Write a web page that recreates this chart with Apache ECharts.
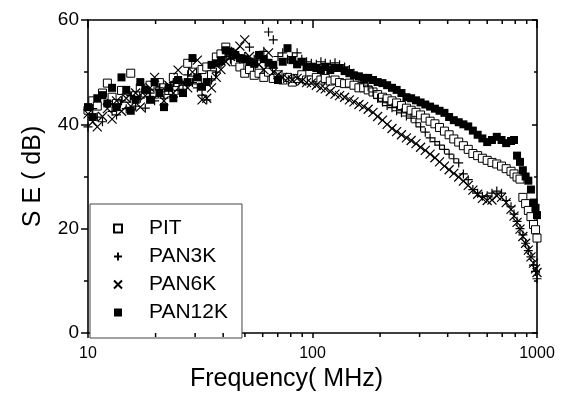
<!DOCTYPE html>
<html>
<head>
<meta charset="utf-8">
<script src="https://cdn.jsdelivr.net/npm/echarts@6/dist/echarts.min.js"></script>
<style>
html,body{margin:0;padding:0;background:#fff;}
#c{width:573px;height:405px;}
</style>
</head>
<body>
<div id="c"></div>
<script>
// Frequency (MHz)
const freq = [10, 10.5, 11, 11.6, 12.2, 12.8, 13.4, 14.1, 14.8, 15.5, 16.3, 17.1, 18, 18.9, 19.8, 20.8, 21.8, 22.9, 24, 25.2,
  26.5, 27.8, 29.2, 30.7, 32.2, 33.8, 35.5, 37.3, 39.1, 41.1, 43.1, 45.3, 47.5, 49.9, 52.4, 55, 57.8, 60.7, 63.7, 66.9,
  70.2, 73.7, 77.4, 81.3, 85.4, 89.6, 94.1, 98.8, 104, 109, 114, 120, 126, 132, 139, 146, 153, 161, 169, 177,
  186, 195, 205, 215, 226, 237, 249, 262, 275, 289, 303, 318, 334, 351, 368, 387, 406, 426, 448, 470,
  494, 518, 544, 571, 600, 630, 662, 695, 729, 766, 790, 815, 840, 865, 890, 915, 940, 965, 985, 1000];

// SE (dB)
const pit = [42.7, 44.5, 43.5, 46, 47.9, 45.2, 44, 46.5, 45, 49.8, 45.5, 47, 46, 47.5, 45.8, 48, 47, 46.5, 49, 48,
  47.5, 51.7, 50, 48.5, 50.5, 51, 49.5, 52.9, 53.5, 54.8, 53.5, 52, 51, 49.8, 50.5, 49.4, 49.8, 49, 50, 48.8,
  49.5, 48.5, 49, 48.1, 48.8, 49.5, 48.5, 48.5, 49, 48.5, 48.8, 48.3, 48.5, 48, 47.8, 47.9, 47.5, 47, 47, 46.6,
  46.2, 45.7, 45.2, 44.9, 44.5, 44.1, 43.6, 43.1, 42.7, 42.3, 41.8, 41.2, 40.6, 40.1, 39.4, 38.7, 38, 37.2, 36.6, 35.9,
  35.2, 34.4, 34, 33.5, 33.1, 32.7, 32.4, 32, 31.5, 31, 30.5, 29.9, 29.5, 26, 24.8, 23.5, 22.3, 20.8, 19.8, 18.2];

const pan3k = [39.5, 43, 41.4, 40.5, 44, 42.5, 41.8, 44.5, 43, 45.5, 43.5, 45, 43.1, 46, 44.5, 47, 45, 46.5, 48, 46.5,
  47.5, 49.5, 48, 47, 45.6, 44.7, 48.5, 50, 51.5, 53, 52.5, 53.5, 52.5, 53, 54.8, 52.5, 53, 54, 57.7, 56.2,
  53, 53.7, 52.5, 53, 53.7, 52.5, 52, 51.7, 51.5, 52, 51.7, 51.5, 51.8, 51.4, 51, 50.5, 49.8, 48.8, 48, 47.2,
  46.2, 45, 44.3, 43.6, 43.2, 42.6, 42.2, 41.6, 41.2, 40.3, 39.5, 38.5, 37.4, 36.7, 36, 35.2, 34.3, 33.4, 32.6, 30.5,
  29.4, 27.5, 26.8, 26.2, 26.3, 26.8, 27.2, 26.8, 25.4, 24.2, 22.8, 21.4, 20, 18.8, 17.2, 15.8, 14.6, 13, 11.8, 10.4];

const pan6k = [42, 40.5, 39.5, 41.5, 43, 41, 44.5, 42.5, 45, 43.5, 46, 43.3, 45.5, 47, 49, 46, 44.5, 47.5, 46, 50.4,
  48, 47, 50, 52.3, 44.7, 45, 47, 49, 50.5, 52, 53, 54, 55, 56.2, 53, 52, 51.5, 50.5, 53.7, 50,
  49.5, 49, 48.8, 48.5, 48.8, 48.3, 48, 47.9, 47.5, 47, 46.8, 46.3, 45.8, 45.5, 45.2, 44.7, 44.3, 43.8, 43.4, 42.9,
  42.3, 41.5, 40.8, 40, 39.2, 38.6, 38, 37.4, 36.9, 36.3, 35.6, 35, 34.3, 33.6, 32.8, 32, 31.3, 30.6, 29.9, 29.1,
  28.3, 27.4, 26.6, 25.8, 25.4, 25.5, 26.3, 26, 25, 23.7, 22.4, 21.2, 19.9, 18.5, 17.2, 15.9, 14.6, 13.4, 12.3, 11.6];

const pan12k = [43.3, 41.4, 45, 45.6, 44, 47, 43.3, 49, 46.6, 42.6, 44.7, 48.1, 46.6, 44.7, 48.1, 46, 43.3, 47, 45, 48.5,
  46, 48.1, 52.7, 49, 47.2, 48.1, 51.4, 51.7, 52.3, 54.2, 53.9, 53.3, 52.7, 52.5, 52, 51.6, 53.3, 52.5, 51.8, 51.4,
  48.5, 52, 54.6, 52.3, 51.5, 52, 51, 51, 50.8, 50.4, 51, 50.4, 50.8, 50.8, 50.2, 49.8, 49.4, 49.2, 48.9, 48.9,
  48.5, 48.1, 47.9, 47.5, 47, 46.6, 46, 45.2, 45, 44.6, 44.2, 43.8, 43.4, 43, 42.6, 42.2, 41.4, 40.8, 40.4, 40,
  39.6, 38.8, 38, 37.3, 36.6, 37, 37.6, 37, 36.4, 36.8, 37, 34, 32.8, 31.2, 30, 29.2, 27.5, 25, 24, 22.6];

const seriesNames = ['PIT', 'PAN3K', 'PAN6K', 'PAN12K'];
const xMinorTicks = [20, 30, 40, 50, 60, 70, 80, 90, 200, 300, 400, 500, 600, 700, 800, 900];

const FONT = '"Liberation Sans", Arial, Helvetica, sans-serif';
const SQUARE = 'path://M0,0L10,0L10,10L0,10Z';
const PLUS = 'path://M5,0L5,10M0,5L10,5';
const CROSS = 'path://M0,0L10,10M10,0L0,10';

function pairs(vals) { return freq.map((f, i) => [f, vals[i]]); }

const chart = echarts.init(document.getElementById('c'), null, {renderer: 'canvas'});

const axisLine = {show: true, onZero: false, lineStyle: {color: '#000', width: 1.6}};
const tickStyle = {color: '#000', width: 1.5};

const option = {
  animation: false,
  backgroundColor: '#fff',
  textStyle: {fontFamily: FONT},
  grid: {left: 88, right: 36, top: 20, bottom: 72, containLabel: false},
  legend: {
    data: seriesNames,
    orient: 'vertical',
    left: 90, top: 204,
    padding: [14, 14, 15, 23],
    itemWidth: 8, itemHeight: 8, itemGap: 7,
    backgroundColor: '#fff',
    borderColor: '#444', borderWidth: 1,
    textStyle: {fontFamily: FONT, fontSize: 21, color: '#000', lineHeight: 21, padding: [0, 0, 0, 22]},
    selectedMode: false
  },
  xAxis: [{
    type: 'log', logBase: 10, min: 10, max: 1000,
    position: 'bottom',
    axisLine: axisLine,
    axisTick: {show: true, inside: false, length: 5, lineStyle: tickStyle},
    axisLabel: {fontFamily: FONT, fontSize: 16, color: '#000', margin: 13, formatter: v => String(Math.round(v))},
    splitLine: {show: false},
    name: 'Frequency( MHz)', nameLocation: 'middle', nameGap: 33,
    nameTextStyle: {fontFamily: FONT, fontSize: 25, color: '#000', padding: [0, 52, 0, 0]}
  }, {
    type: 'log', logBase: 10, min: 10, max: 1000,
    position: 'top',
    axisLine: axisLine,
    axisTick: {show: true, inside: true, length: 8, lineStyle: tickStyle},
    axisLabel: {show: false},
    splitLine: {show: false}
  }],
  yAxis: [{
    type: 'value', min: 0, max: 60, interval: 20,
    position: 'left',
    axisLine: axisLine,
    axisTick: {show: true, inside: false, length: 7, lineStyle: tickStyle},
    minorTick: {show: true, splitNumber: 2, length: 4, lineStyle: tickStyle},
    axisLabel: {fontFamily: FONT, fontSize: 19, color: '#000', margin: 9},
    splitLine: {show: false},
    name: 'S E ( dB)', nameLocation: 'middle', nameGap: 42,
    nameTextStyle: {fontFamily: FONT, fontSize: 25, color: '#000'}
  }, {
    type: 'value', min: 0, max: 60, interval: 20,
    position: 'right',
    axisLine: axisLine,
    axisTick: {show: true, inside: true, length: 5, lineStyle: tickStyle},
    minorTick: {show: true, splitNumber: 2, length: 3, lineStyle: tickStyle},
    axisLabel: {show: false},
    splitLine: {show: false}
  }],
  series: [{
    name: 'PIT', type: 'scatter', data: pairs(pit),
    symbol: SQUARE, symbolSize: 8,
    itemStyle: {color: '#fff', borderColor: '#000', borderWidth: 1, opacity: 1}
  }, {
    name: 'PAN3K', type: 'scatter', data: pairs(pan3k),
    symbol: PLUS, symbolSize: 9,
    itemStyle: {color: 'rgba(0,0,0,0)', borderColor: '#000', borderWidth: 1.2, opacity: 1}
  }, {
    name: 'PAN6K', type: 'scatter', data: pairs(pan6k),
    symbol: CROSS, symbolSize: 9,
    itemStyle: {color: 'rgba(0,0,0,0)', borderColor: '#000', borderWidth: 1.2, opacity: 1}
  }, {
    name: 'PAN12K', type: 'scatter', data: pairs(pan12k),
    symbol: SQUARE, symbolSize: 8,
    itemStyle: {color: '#000', borderColor: '#000', borderWidth: 0, opacity: 1}
  }]
};

chart.setOption(option);

// x-axis minor ticks (log decades), positioned through the axis scale
const yBottom = chart.convertToPixel({yAxisIndex: 0}, 0);
const yTop = chart.convertToPixel({yAxisIndex: 0}, 60);
const ticks = [];
xMinorTicks.forEach(v => {
  const x = chart.convertToPixel({xAxisIndex: 0}, v);
  ticks.push({type: 'line', z: 100, shape: {x1: x, y1: yBottom, x2: x, y2: yBottom + 4}, style: {stroke: '#000', lineWidth: 1.5}, silent: true});
  ticks.push({type: 'line', z: 100, shape: {x1: x, y1: yTop, x2: x, y2: yTop + 4}, style: {stroke: '#000', lineWidth: 1.5}, silent: true});
});
chart.setOption({graphic: {elements: ticks}});
</script>
</body>
</html>
